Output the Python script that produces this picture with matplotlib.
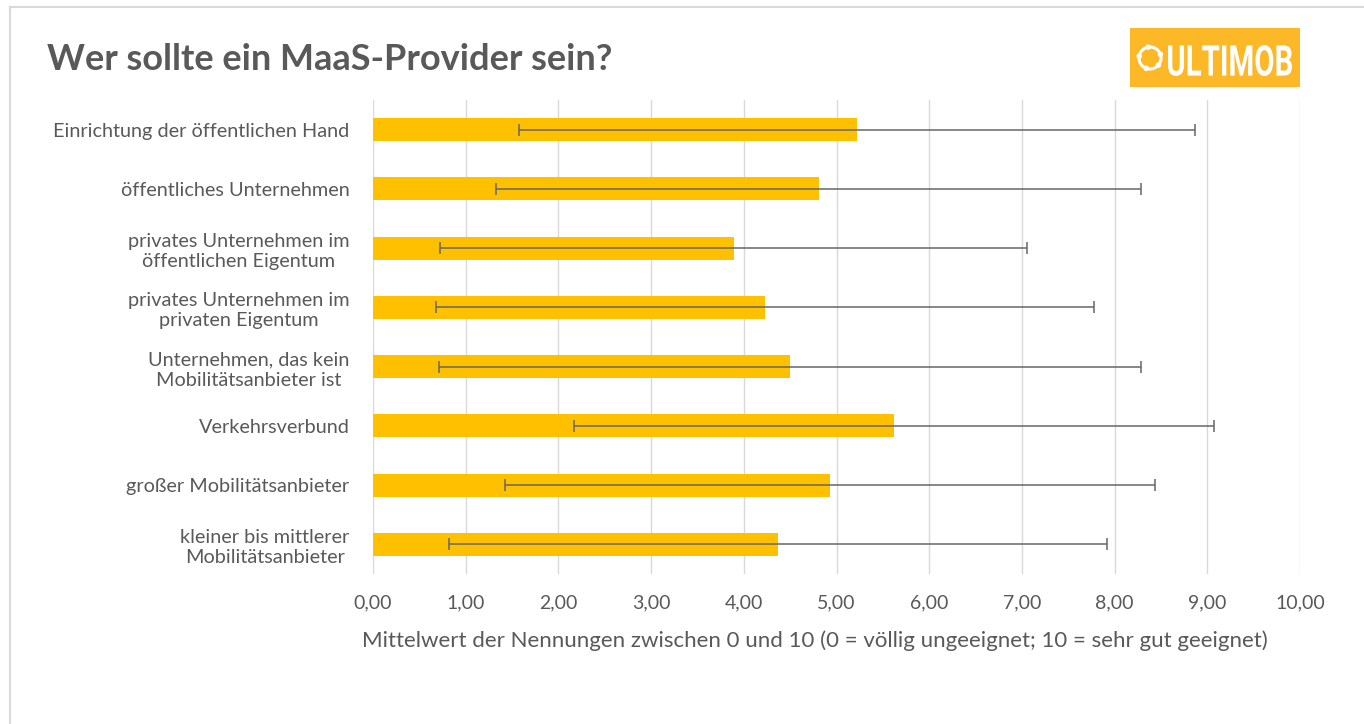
import numpy as np
import matplotlib.pyplot as plt
from matplotlib.patches import Rectangle, Ellipse, PathPatch
from matplotlib.lines import Line2D
from matplotlib.textpath import TextPath
from matplotlib.font_manager import FontProperties
from matplotlib.transforms import Affine2D

plt.rcParams['font.family'] = ['Lato', 'DejaVu Sans']

categories = [
    'Einrichtung der öffentlichen Hand',
    'öffentliches Unternehmen',
    'privates Unternehmen im\nöffentlichen Eigentum',
    'privates Unternehmen im\nprivaten Eigentum',
    'Unternehmen, das kein\nMobilitätsanbieter ist',
    'Verkehrsverbund',
    'großer Mobilitätsanbieter',
    'kleiner bis mittlerer\nMobilitätsanbieter',
]
means = [5.22, 4.81, 3.89, 4.23, 4.50, 5.62, 4.93, 4.37]
std_dev = [3.65, 3.48, 3.17, 3.55, 3.79, 3.45, 3.51, 3.55]
xticks = [0, 1, 2, 3, 4, 5, 6, 7, 8, 9, 10]

text_col = '#595959'
bar_col = '#FFC000'
W, H = 1364, 724

fig = plt.figure(figsize=(W / 100, H / 100), dpi=100)
ax = fig.add_axes([373 / W, 1 - 574 / H, (1300 - 373) / W, (574 - 100) / H])

y = np.arange(len(categories))
ax.barh(y, means, height=0.39, color=bar_col, zorder=2)
ax.errorbar(means, y, xerr=std_dev, fmt='none', ecolor='#666666',
            elinewidth=1.1, capsize=4, capthick=1.1, zorder=3)

ax.set_ylim(len(categories) - 0.5, -0.5)
ax.set_xlim(0, 10)
ax.set_xticks(xticks)
ax.set_xticklabels([f'{v:.2f}'.replace('.', ',') for v in xticks],
                   fontsize=14, color=text_col)
ax.set_yticks(y)
ax.set_yticklabels(categories, fontsize=14.3, color=text_col,
                   multialignment='center', linespacing=1.25)
ax.tick_params(axis='y', length=0, pad=17)
ax.tick_params(axis='x', length=0, pad=15)
ax.grid(axis='x', color='#d9d9d9', linewidth=1, zorder=0)
for s in ax.spines.values():
    s.set_visible(False)

# x-axis title (Excel centres it slightly left of the plot area)
fig.text(815 / W, 1 - 641 / H,
         'Mittelwert der Nennungen zwischen 0 und 10 (0 = völlig ungeeignet; 10 = sehr gut geeignet)',
         fontsize=16, color=text_col, ha='center', va='center')

# title
fig.text(47 / W, 1 - 60 / H, 'Wer sollte ein MaaS-Provider sein?', fontsize=26,
         fontweight='bold', color=text_col, va='center', ha='left')

# outer frame (top and left edges)
fig.add_artist(Line2D([10 / W, 1], [1 - 7 / H, 1 - 7 / H], color='#d9d9d9', lw=1.5))
fig.add_artist(Line2D([10 / W, 10 / W], [0, 1 - 7 / H], color='#d9d9d9', lw=1.5))

# logo
lx0, ly0, lx1, ly1 = 1130, 28, 1300, 87
fig.add_artist(Rectangle((lx0 / W, 1 - ly1 / H), (lx1 - lx0) / W, (ly1 - ly0) / H,
                         transform=fig.transFigure, color='#FDB827', lw=0))
cx, cy, r = 1150, 58, 11
fig.add_artist(Ellipse((cx / W, 1 - cy / H), 2 * r / W, 2 * r / H, transform=fig.transFigure,
                       fill=False, ec='white', lw=2.2))
for a in np.deg2rad([20, 100, 170, 250, 320]):
    fig.add_artist(Ellipse(((cx + r * np.cos(a)) / W, 1 - (cy - r * np.sin(a)) / H),
                           5.5 / W, 5.5 / H, transform=fig.transFigure, color='white', lw=0))

tp = TextPath((0, 0), 'ULTIMOB', size=100, prop=FontProperties(family='Roboto', weight='bold'))
bb = tp.get_extents()
tx0, tx1, ty_top, ty_bot = 1168, 1292, 45, 76
sx = (tx1 - tx0) / bb.width
sy = (ty_bot - ty_top) / bb.height
trans = (Affine2D().translate(-bb.x0, -bb.y0).scale(sx, sy)
         .translate(tx0, H - ty_bot).scale(1 / W, 1 / H) + fig.transFigure)
fig.add_artist(PathPatch(tp, transform=trans, color='white', lw=0))

fig.savefig('out.png', dpi=100)
